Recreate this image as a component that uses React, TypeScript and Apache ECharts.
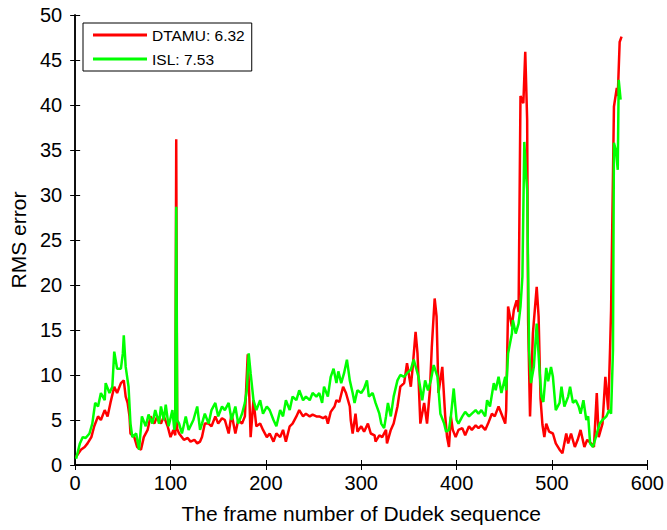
import React, { useEffect, useRef } from "react";
import * as echarts from "echarts";

const xTicks = [0, 100, 200, 300, 400, 500, 600];
const yTicks = [0, 5, 10, 15, 20, 25, 30, 35, 40, 45, 50];

const dtamuName = "DTAMU: 6.32";
const islName = "ISL: 7.53";

const dtamuFrames = [1, 6, 10, 13, 17, 20, 24, 27, 31, 34, 37, 41, 44, 48, 51, 53, 55, 57, 58, 62, 65, 69, 72, 76, 79, 83, 86, 90, 93, 97, 100, 103, 105, 106, 107, 109, 114, 118, 121, 125, 128, 131, 133, 136, 140, 143, 147, 150, 154, 157, 161, 164, 168, 171, 175, 178, 181, 183, 184, 187, 190, 194, 197, 201, 204, 208, 211, 215, 218, 221, 225, 228, 232, 235, 239, 242, 246, 249, 253, 256, 260, 263, 265, 268, 272, 274, 277, 281, 284, 288, 289, 291, 294, 296, 300, 303, 307, 310, 314, 315, 319, 322, 326, 327, 331, 334, 338, 341, 345, 348, 352, 354, 357, 359, 362, 366, 369, 372, 374, 377, 379, 381, 385, 388, 390, 392, 394, 396, 399, 402, 406, 409, 413, 416, 420, 423, 426, 430, 433, 437, 440, 444, 447, 451, 452, 454, 458, 460, 463, 465, 467, 470, 472, 474, 475, 477, 480, 484, 486, 488, 490, 492, 494, 497, 501, 504, 508, 511, 515, 517, 520, 524, 527, 530, 534, 537, 541, 544, 547, 549, 553, 556, 559, 561, 562, 565, 568, 569, 571, 573];
const dtamuValues = [0.9, 1.7, 2.0, 2.4, 3.1, 4.3, 5.4, 5.0, 6.1, 5.4, 6.9, 8.7, 8.0, 9.1, 9.4, 7.6, 6.9, 5.4, 3.5, 3.1, 2.0, 1.7, 3.1, 3.9, 5.4, 4.6, 5.4, 4.6, 5.4, 4.3, 3.1, 3.9, 3.3, 36.2, 4.0, 3.5, 2.8, 3.0, 2.6, 2.8, 2.4, 2.6, 3.1, 4.6, 4.6, 4.3, 5.4, 4.6, 5.2, 5.0, 3.5, 5.7, 3.5, 5.0, 4.6, 5.4, 12.3, 6.5, 3.1, 7.2, 4.3, 4.6, 3.9, 3.1, 3.5, 2.6, 3.5, 3.1, 3.9, 2.6, 4.3, 4.6, 5.4, 6.1, 5.4, 5.7, 5.4, 5.6, 5.4, 5.4, 5.2, 5.4, 4.6, 5.9, 6.5, 7.2, 7.0, 8.7, 8.0, 6.5, 5.0, 3.5, 5.7, 3.7, 4.3, 3.7, 4.6, 3.5, 3.3, 2.6, 3.3, 3.1, 3.9, 2.4, 3.9, 4.6, 6.5, 8.7, 9.1, 11.3, 8.7, 10.9, 14.8, 12.4, 4.6, 6.9, 4.6, 8.3, 13.1, 18.5, 16.5, 8.0, 10.9, 5.5, 3.1, 2.0, 5.4, 3.9, 3.1, 3.9, 4.1, 3.3, 4.3, 3.9, 4.4, 4.1, 4.4, 3.9, 4.6, 5.7, 5.4, 6.5, 5.7, 4.6, 6.1, 17.6, 15.4, 17.2, 18.3, 17.0, 41.0, 40.2, 45.9, 38.3, 16.0, 5.4, 14.6, 19.8, 16.5, 7.4, 4.5, 3.1, 4.6, 3.7, 3.5, 2.4, 1.7, 1.3, 3.5, 2.4, 3.5, 2.0, 2.8, 3.9, 2.0, 2.8, 2.4, 2.0, 8.0, 3.1, 4.6, 9.8, 6.1, 13.1, 17.2, 39.8, 41.9, 41.0, 47.0, 47.6];

const islFrames = [1, 5, 8, 11, 15, 18, 21, 24, 27, 31, 32, 36, 39, 41, 44, 48, 50, 51, 53, 56, 58, 60, 64, 67, 70, 74, 77, 81, 84, 88, 90, 93, 95, 98, 102, 104, 105, 106, 107, 109, 112, 116, 119, 124, 128, 131, 133, 136, 140, 143, 147, 150, 154, 157, 161, 164, 168, 171, 175, 178, 180, 182, 184, 187, 190, 194, 197, 201, 204, 208, 211, 215, 218, 221, 225, 228, 232, 235, 239, 242, 246, 249, 253, 256, 259, 261, 265, 268, 271, 274, 276, 279, 282, 285, 288, 291, 293, 296, 300, 303, 306, 308, 312, 315, 319, 321, 324, 326, 328, 331, 334, 338, 341, 345, 348, 352, 355, 358, 360, 364, 367, 370, 373, 376, 380, 383, 387, 389, 392, 394, 397, 400, 402, 406, 409, 413, 416, 420, 423, 426, 430, 432, 435, 439, 441, 444, 447, 451, 452, 454, 458, 459, 462, 465, 467, 469, 471, 473, 474, 476, 478, 481, 484, 487, 489, 491, 494, 496, 499, 501, 504, 508, 510, 513, 517, 519, 522, 525, 528, 530, 533, 536, 538, 540, 543, 546, 550, 553, 557, 560, 562, 564, 565, 567, 569, 570, 572];
const islValues = [0.7, 2.4, 3.1, 3.0, 3.5, 4.6, 6.9, 6.5, 8.0, 7.2, 9.1, 8.0, 8.7, 12.6, 10.7, 10.7, 12.4, 14.4, 10.9, 8.7, 4.6, 3.1, 3.5, 1.7, 5.4, 4.3, 5.6, 4.6, 6.1, 4.6, 6.5, 5.0, 6.7, 4.3, 6.1, 3.9, 4.5, 28.7, 5.0, 4.6, 3.5, 5.4, 3.9, 5.0, 6.5, 3.9, 4.6, 5.7, 4.6, 6.1, 6.9, 5.4, 6.5, 6.1, 6.9, 5.0, 6.5, 4.6, 5.7, 6.9, 8.3, 12.4, 10.2, 7.2, 6.1, 7.2, 5.7, 6.5, 6.1, 5.0, 4.3, 6.1, 5.4, 7.2, 6.1, 7.6, 7.2, 8.3, 7.2, 7.6, 7.2, 8.0, 7.6, 8.0, 6.9, 8.7, 7.6, 9.8, 10.7, 9.1, 10.4, 9.1, 10.2, 11.7, 9.4, 8.0, 6.9, 8.3, 8.0, 8.5, 9.4, 7.6, 8.0, 6.9, 5.7, 4.6, 4.1, 5.4, 6.9, 5.4, 7.6, 9.4, 10.0, 9.8, 10.2, 10.6, 11.7, 10.6, 9.8, 7.2, 9.4, 8.3, 9.4, 11.1, 9.8, 5.7, 4.6, 3.7, 3.9, 5.4, 8.5, 5.0, 4.6, 5.4, 5.9, 5.4, 5.7, 6.1, 5.7, 6.1, 5.4, 7.2, 6.5, 9.1, 8.3, 9.8, 8.0, 9.8, 8.3, 12.4, 14.6, 16.1, 14.6, 15.7, 17.6, 20.9, 35.9, 32.0, 30.6, 12.8, 9.1, 10.9, 15.7, 10.5, 7.6, 7.0, 10.8, 9.3, 10.9, 9.8, 6.1, 6.9, 8.7, 6.5, 7.6, 8.7, 6.9, 7.2, 6.5, 5.7, 7.2, 5.0, 5.4, 2.4, 2.0, 3.1, 4.6, 5.0, 5.4, 6.1, 5.7, 12.8, 35.8, 35.0, 32.8, 42.8, 40.6];

const FONT = "'Liberation Sans', Arial, sans-serif";

export default function App() {
  const ref = useRef<HTMLDivElement>(null);
  useEffect(() => {
    if (!ref.current) return;
    const chart = echarts.init(ref.current, null, { renderer: "svg" });
    const dtamuData = dtamuFrames.map((f, i) => [f, dtamuValues[i]]);
    const islData = islFrames.map((f, i) => [f, islValues[i]]);
    const axisLine = { show: true, lineStyle: { color: "#000", width: 1.5 } };
    const axisTick = { show: true, inside: true, length: 5, lineStyle: { color: "#000", width: 1 } };
    const labelStyle = { color: "#000", fontSize: 20, fontFamily: FONT };
    chart.setOption({
      animation: false,
      backgroundColor: "#fff",
      grid: { left: 73, right: 18, top: 15, bottom: 65, containLabel: false },
      legend: {
        show: true,
        orient: "vertical",
        left: 83,
        top: 23,
        padding: [4, 7, 4, 10],
        itemGap: 8,
        itemWidth: 54,
        itemHeight: 3,
        icon: "rect",
        borderColor: "#000",
        borderWidth: 1,
        backgroundColor: "#fff",
        textStyle: { color: "#000", fontSize: 15.5, fontFamily: FONT },
        data: [dtamuName, islName],
      },
      xAxis: [
        {
          type: "value",
          min: 0,
          max: 600,
          interval: 100,
          position: "bottom",
          name: "The frame number of Dudek sequence",
          nameLocation: "middle",
          nameGap: 38,
          nameTextStyle: { color: "#000", fontSize: 21, fontFamily: FONT },
          axisLine,
          axisTick,
          splitLine: { show: false },
          axisLabel: { ...labelStyle, margin: 8, formatter: (v: number) => (xTicks.includes(v) ? String(v) : "") },
        },
        {
          type: "value",
          min: 0,
          max: 600,
          interval: 100,
          position: "top",
          axisLine,
          axisTick,
          splitLine: { show: false },
          axisLabel: { show: false },
        },
      ],
      yAxis: [
        {
          type: "value",
          min: 0,
          max: 50,
          interval: 5,
          position: "left",
          name: "RMS error",
          nameLocation: "middle",
          nameGap: 45,
          nameTextStyle: { color: "#000", fontSize: 21, fontFamily: FONT },
          axisLine,
          axisTick,
          splitLine: { show: false },
          axisLabel: { ...labelStyle, margin: 13, formatter: (v: number) => (yTicks.includes(v) ? String(v) : "") },
        },
        {
          type: "value",
          min: 0,
          max: 50,
          interval: 5,
          position: "right",
          axisLine,
          axisTick,
          splitLine: { show: false },
          axisLabel: { show: false },
        },
      ],
      series: [
        {
          name: dtamuName,
          type: "line",
          data: dtamuData,
          showSymbol: false,
          symbol: "none",
          lineStyle: { color: "#ff0000", width: 2.5 },
          itemStyle: { color: "#ff0000" },
          z: 2,
        },
        {
          name: islName,
          type: "line",
          data: islData,
          showSymbol: false,
          symbol: "none",
          lineStyle: { color: "#00ff00", width: 2.5 },
          itemStyle: { color: "#00ff00" },
          z: 3,
        },
      ],
    });
    return () => chart.dispose();
  }, []);
  return <div ref={ref} style={{ width: 667, height: 530, position: "absolute", left: 0, top: 0 }} />;
}
